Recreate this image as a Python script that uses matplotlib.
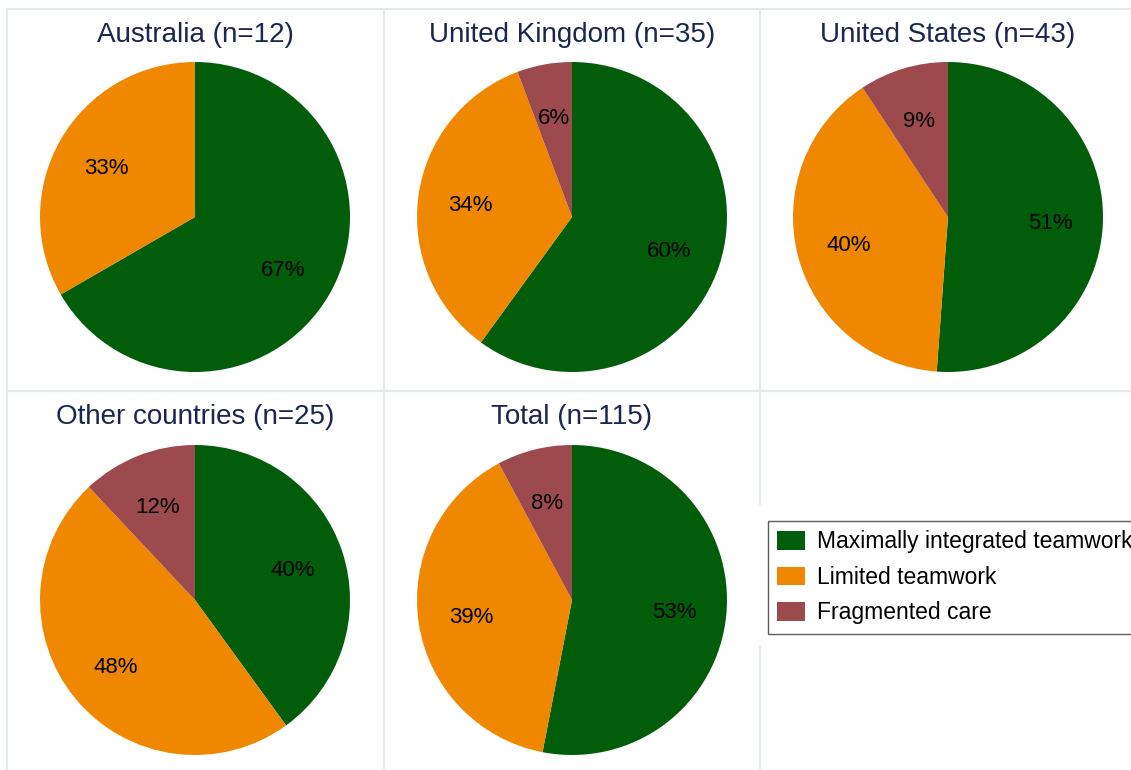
import matplotlib.pyplot as plt
from matplotlib.patches import Rectangle, Patch

# counts per country: maximally integrated, limited teamwork, fragmented care
panels = ["Australia", "United Kingdom", "United States", "Other countries", "Total"]
integrated = [8, 21, 22, 10, 61]
limited = [4, 12, 17, 12, 45]
fragmented = [0, 2, 4, 3, 9]

categories = ["Maximally integrated teamwork", "Limited teamwork", "Fragmented care"]
colors = ["#015d09", "#f08700", "#9c4a4d"]

plt.rcParams['font.family'] = ['Liberation Sans', 'DejaVu Sans']

W, H = 1131, 770
fig = plt.figure(figsize=(W / 100, H / 100), dpi=100)


def px_box(x0, y0, w, h):
    # pixel box (top-left origin) -> figure fraction
    return [x0 / W, 1 - (y0 + h) / H, w / W, h / H]


# panel frames
col_x = [7, 384, 760]
row_y = [9, 391]
col_w = [377, 376, 380]
row_h = [382, 385]
border = "#e4e9f0"
for r in range(2):
    for c in range(3):
        fig.patches.append(Rectangle(((col_x[c]) / W, 1 - (row_y[r] + row_h[r]) / H),
                                     col_w[c] / W, row_h[r] / H, transform=fig.transFigure,
                                     fill=False, edgecolor=border, linewidth=1.5, zorder=0))

centers = [(195, 217), (572, 217), (948, 217), (195, 600), (572, 600)]
title_y = [35, 35, 35, 417, 417]
R = 155


def fmt(pct):
    return "" if pct < 0.5 else f"{pct:.0f}%"


for i, name in enumerate(panels):
    counts = [integrated[i], limited[i], fragmented[i]]
    n = sum(counts)
    cx, cy = centers[i]
    ax = fig.add_axes(px_box(cx - R, cy - R, 2 * R, 2 * R))
    wedges, texts, autotexts = ax.pie(counts, colors=colors, startangle=90, counterclock=False,
                                      autopct=fmt, pctdistance=0.66,
                                      textprops=dict(fontsize=16, color="black"))
    for t in autotexts:
        t.set_va("center_baseline")
    ax.set_xlim(-1, 1)
    ax.set_ylim(-1, 1)
    ax.set_aspect("equal")
    ax.axis("off")
    fig.text(cx / W, 1 - title_y[i] / H, f"{name} (n={n})", ha="center", va="center",
             fontsize=20, color="#1a2650")

# white margin around the legend covers the panel line
fig.patches.append(Rectangle((754 / W, 1 - 645 / H), 380 / W, 140 / H,
                             transform=fig.transFigure, facecolor="white",
                             edgecolor="none", zorder=1))

handles = [Patch(facecolor=c, edgecolor="none") for c in colors]
leg = fig.legend(handles, categories, loc="upper left",
                 bbox_to_anchor=(768 / W, 1 - 521 / H), borderaxespad=0,
                 fontsize=16.5, frameon=True, fancybox=False, edgecolor="#333333",
                 handlelength=1.22, handleheight=0.87, labelspacing=0.55,
                 handletextpad=0.52, borderpad=0.4)
leg.get_frame().set_linewidth(1.0)
leg.set_zorder(5)

fig.savefig("out.png", dpi=100, facecolor="white")
